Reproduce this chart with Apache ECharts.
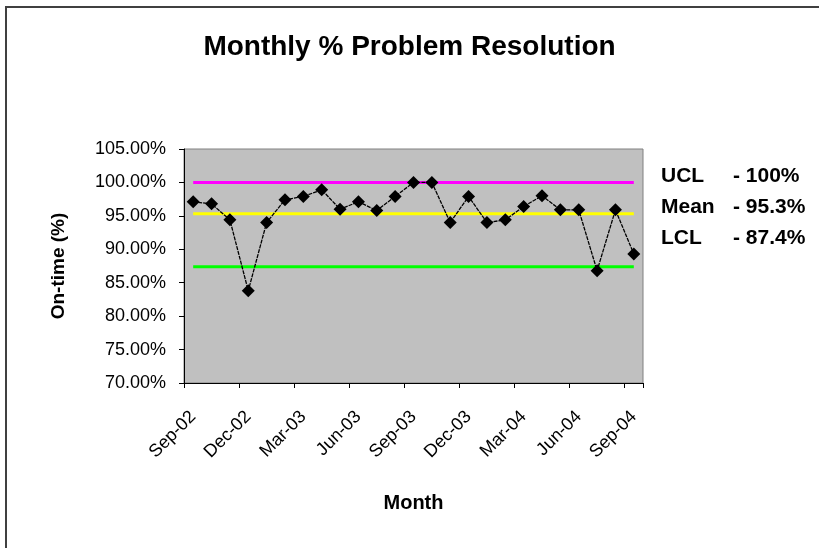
<!DOCTYPE html>
<html>
<head>
<meta charset="utf-8">
<script src="https://cdn.jsdelivr.net/npm/echarts@6/dist/echarts.min.js"></script>
<style>
html, body { margin: 0; padding: 0; background: #fff; }
#chart { width: 819px; height: 548px; }
</style>
</head>
<body>
<div id="chart"></div>
<script>
const months = ['Sep-02', 'Oct-02', 'Nov-02', 'Dec-02', 'Jan-03', 'Feb-03', 'Mar-03', 'Apr-03', 'May-03',
    'Jun-03', 'Jul-03', 'Aug-03', 'Sep-03', 'Oct-03', 'Nov-03', 'Dec-03', 'Jan-04', 'Feb-04', 'Mar-04',
    'Apr-04', 'May-04', 'Jun-04', 'Jul-04', 'Aug-04', 'Sep-04'];
const onTime = [97.1, 96.8, 94.4, 83.8, 94.0, 97.4, 97.9, 98.9, 96.0, 97.1, 95.8, 97.9, 100,
    100, 94.0, 97.9, 94.0, 94.4, 96.4, 98.0, 95.9, 95.9, 86.8, 95.9, 89.3];
const limitNames = ['UCL', 'Mean', 'LCL'];
const limitValues = [100, 95.3, 87.4];
const limitLabels = ['- 100%', '- 95.3%', '- 87.4%'];
const limitColors = ['#ff00ff', '#ffff00', '#00ff00'];

const font = 'Arial, "Liberation Sans", sans-serif';

let chart = echarts.init(document.getElementById('chart'));

// control limit lines sit under the data line
let limitSeries = limitNames.map((name, i) => ({
    name,
    type: 'line',
    data: months.map(() => limitValues[i]),
    symbol: 'none',
    silent: true,
    lineStyle: {color: limitColors[i], width: 3},
    z: 2
}));

let sideText = [];
limitNames.forEach((name, i) => {
    sideText.push({
        type: 'text', left: 661, top: 166 + i * 31,
        style: {text: name, font: 'bold 21px ' + font, fill: '#000'}
    });
    sideText.push({
        type: 'text', left: 733, top: 166 + i * 31,
        style: {text: limitLabels[i], font: 'bold 21px ' + font, fill: '#000'}
    });
});

chart.setOption({
    animation: false,
    title: {
        text: 'Monthly % Problem Resolution',
        left: 'center',
        top: 28,
        textStyle: {fontFamily: font, fontSize: 28, fontWeight: 'bold', color: '#000'}
    },
    grid: {
        left: 184, right: 176, top: 149, bottom: 165,
        outerBoundsMode: 'none',
        show: true,
        backgroundColor: '#c0c0c0',
        borderColor: '#808080',
        borderWidth: 1
    },
    xAxis: {
        type: 'category',
        data: months,
        boundaryGap: true,
        name: 'Month',
        nameLocation: 'middle',
        nameGap: 110,
        nameTextStyle: {fontFamily: font, fontSize: 20, fontWeight: 'bold', color: '#000'},
        axisLine: {lineStyle: {color: '#000', width: 1}},
        axisTick: {show: true, interval: 2, length: 5, lineStyle: {color: '#000'}},
        axisLabel: {
            interval: 2, rotate: 45, margin: 31,
            fontFamily: font, fontSize: 18, color: '#000'
        },
        splitLine: {show: false}
    },
    yAxis: {
        type: 'value',
        min: 70,
        max: 105,
        interval: 5,
        name: 'On-time (%)',
        nameLocation: 'middle',
        nameGap: 116,
        nameTextStyle: {fontFamily: font, fontSize: 19, fontWeight: 'bold', color: '#000'},
        axisLine: {show: true, lineStyle: {color: '#000', width: 1}},
        axisTick: {show: true, length: 5, lineStyle: {color: '#000'}},
        axisLabel: {
            margin: 18,
            fontFamily: font, fontSize: 18, color: '#000',
            formatter: v => v.toFixed(2) + '%'
        },
        splitLine: {show: false}
    },
    series: [
        ...limitSeries,
        {
            name: 'On-time',
            type: 'line',
            data: onTime,
            symbol: 'diamond',
            symbolSize: 13,
            showAllSymbol: true,
            itemStyle: {color: '#000'},
            lineStyle: {color: '#000', width: 1.3, type: [4, 1]},
            z: 5
        }
    ],
    graphic: [
        {
            type: 'rect',
            shape: {x: 6, y: 7, width: 900, height: 700},
            style: {fill: 'none', stroke: '#404040', lineWidth: 2},
            silent: true
        },
        ...sideText
    ]
});
</script>
</body>
</html>
